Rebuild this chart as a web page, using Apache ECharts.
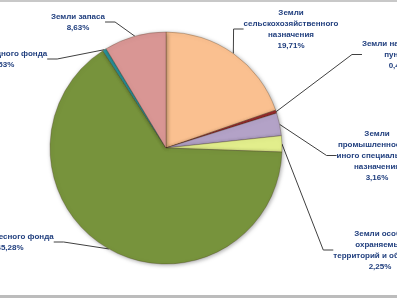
<!DOCTYPE html>
<html>
<head>
<meta charset="utf-8">
<script src="https://cdn.jsdelivr.net/npm/echarts@6/dist/echarts.min.js"></script>
<style>html,body{margin:0;padding:0;background:#fff}#c{width:397px;height:298px}</style>
</head>
<body>
<div id="c"></div>
<script>
var categories = [
  "Земли\nсельскохозяйственного\nназначения",
  "Земли населенных\nпунктов",
  "Земли\nпромышленности и\nиного специального\nназначения",
  "Земли особо\nохраняемых\nтерриторий и объектов",
  "Земли лесного фонда",
  "Земли водного фонда",
  "Земли запаса"
];
var values = [19.71, 0.44, 3.16, 2.25, 65.28, 0.53, 8.63];
var valueLabels = ["19,71%", "0,44%", "3,16%", "2,25%", "65,28%", "0,53%", "8,63%"];
var colors = ["#FAC090", "#9B2D2D", "#B3A2C7", "#E2EE8C", "#77933C", "#2A979E", "#D99694"];

// label placement (center x, top y) per slice
var labelPos = [[291, 7], [400, 38], [377, 128], [380, 228], [10, 231], [3, 48], [78, 11]];

var chart = echarts.init(document.getElementById('c'));
chart.setOption({
  animation: false,
  graphic: [
    {type: 'rect', shape: {x: 0, y: 0, width: 397, height: 2}, style: {fill: '#c8c8c8'}},
    {type: 'rect', shape: {x: 0, y: 295, width: 397, height: 3}, style: {fill: '#bcbcbc'}}
  ],
  series: [{
    type: 'pie',
    center: [166, 148],
    radius: [0, 116],
    startAngle: 90,
    clockwise: true,
    avoidLabelOverlap: false,
    data: categories.map(function (n, i) {
      return {name: n, value: values[i], itemStyle: {color: colors[i]}};
    }),
    itemStyle: {
      borderColor: 'rgba(60,40,20,0.35)',
      borderWidth: 0.8,
      shadowColor: 'rgba(0,0,0,0.35)',
      shadowBlur: 4,
      shadowOffsetX: 1,
      shadowOffsetY: 1
    },
    label: {
      show: true,
      position: 'outside',
      formatter: function (p) { return p.name + '\n' + valueLabels[p.dataIndex]; },
      color: '#22407F',
      fontFamily: 'Liberation Sans, Arial, sans-serif',
      fontWeight: 'bold',
      fontSize: 8,
      lineHeight: 11,
      align: 'center'
    },
    labelLine: {
      show: true,
      length: 10,
      length2: 10,
      lineStyle: {color: '#404040', width: 1}
    },
    labelLayout: function (p) {
      var pos = labelPos[p.dataIndex];
      return {x: pos[0], y: pos[1], align: 'center', verticalAlign: 'top'};
    }
  }]
});
</script>
</body>
</html>
